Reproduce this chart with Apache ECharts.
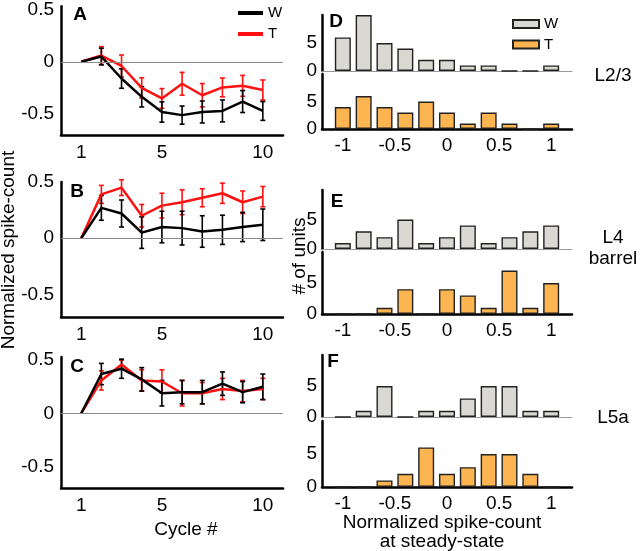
<!DOCTYPE html>
<html><head><meta charset="utf-8">
<script src="https://cdn.jsdelivr.net/npm/echarts@6/dist/echarts.min.js"></script>
<style>html,body{margin:0;padding:0;background:#fff}#c{width:640px;height:551px}</style>
</head><body><div id="c"></div>
<script>
// ---- data ----
const cycles = [1,2,3,4,5,6,7,8,9,10];
const A_W = [0, 0.05, -0.16, -0.335, -0.48, -0.51, -0.48, -0.47, -0.38, -0.47];
const A_W_err = [0, 0.08, 0.093, 0.097, 0.097, 0.087, 0.105, 0.105, 0.105, 0.09];
const A_T = [0, 0.06, -0.04, -0.25, -0.35, -0.21, -0.32, -0.245, -0.23, -0.27];
const A_T_err = [0, 0.085, 0.105, 0.097, 0.094, 0.109, 0.112, 0.09, 0.1, 0.096];
const B_W = [0, 0.27, 0.22, 0.05, 0.1, 0.09, 0.06, 0.075, 0.1, 0.12];
const B_W_err = [0, 0.11, 0.12, 0.14, 0.14, 0.15, 0.14, 0.13, 0.13, 0.14];
const B_T = [0, 0.39, 0.45, 0.2, 0.29, 0.32, 0.36, 0.4, 0.32, 0.37];
const B_T_err = [0, 0.08, 0.07, 0.1, 0.11, 0.11, 0.08, 0.09, 0.1, 0.09];
const C_W = [0, 0.37, 0.42, 0.32, 0.19, 0.2, 0.2, 0.28, 0.2, 0.25];
const C_W_err = [0, 0.1, 0.09, 0.11, 0.12, 0.11, 0.11, 0.11, 0.1, 0.12];
const C_T = [0, 0.31, 0.46, 0.31, 0.3, 0.19, 0.19, 0.23, 0.21, 0.23];
const C_T_err = [0, 0.09, 0.04, 0.1, 0.11, 0.12, 0.1, 0.1, 0.1, 0.1];

const bins = [-1, -0.8, -0.6, -0.4, -0.2, 0, 0.2, 0.4, 0.6, 0.8, 1];
const D_W = [6, 10, 5, 4, 2, 2, 1, 1, 0, 0, 1];
const D_T = [4, 6, 4, 3, 5, 3, 1, 3, 1, 0, 1];
const E_W = [1, 3, 2, 5, 1, 2, 4, 1, 2, 3, 4];
const E_T = [0, 0, 1, 4, 0, 4, 3, 1, 7, 1, 5];
const F_W = [0, 1, 5, 0, 1, 1, 3, 5, 5, 1, 1];
const F_T = [0, 0, 1, 2, 6, 2, 3, 5, 5, 2, 0];

const xTicksLeft = [1, 5, 10];
const panelLetters = ['A','B','C','D','E','F'];
const layerLabels = ['L2/3', 'L4\nbarrel', 'L5a'];

// ---- chart ----
const FONT = "'Liberation Sans', Arial, sans-serif";
const FS = 19;
const RED = '#ff1010', BLACK = '#000';
const GRAY = '#d9d8d2', ORANGE = '#fcb550';

const leftGrids = [
  {top: 5, height: 130, max: 0.53},
  {top: 182, height: 135, max: 0.5},
  {top: 357, height: 131, max: 0.53}
];
const rightGrids = [
  {top: 15, height: 56}, {top: 74, height: 55},
  {top: 190, height: 59}, {top: 252, height: 62},
  {top: 355, height: 62}, {top: 421, height: 66}
];

const grid = [], xAxis = [], yAxis = [], series = [];
const halfFmt = v => (Math.abs(v*2 - Math.round(v*2)) < 1e-6) ? String(Math.round(v*2)/2) : '';

leftGrids.forEach((g, i) => {
  grid.push({left: 61, width: 222, top: g.top, height: g.height});
  xAxis.push({type: 'value', gridIndex: i, min: 0, max: 11, interval: 1,
    axisLine: {show: true, onZero: false, lineStyle: {color: BLACK, width: 2.5}}, axisTick: {show: false},
    splitLine: {show: false},
    axisLabel: {margin: 8, color: '#000', fontSize: FS, fontFamily: FONT,
      formatter: v => xTicksLeft.includes(v) ? String(v) : ''}});
  yAxis.push({type: 'value', gridIndex: i, min: -0.7, max: g.max, interval: 0.1,
    axisLine: {show: true, onZero: false, lineStyle: {color: BLACK, width: 2.5}}, axisTick: {show: false},
    splitLine: {show: false},
    axisLabel: {margin: 7, color: '#000', fontSize: FS, fontFamily: FONT, formatter: halfFmt}});
});
rightGrids.forEach((g, j) => {
  const i = j + 3;
  const isW = j % 2 === 0;
  grid.push({left: 322, width: 250, top: g.top, height: g.height});
  xAxis.push({type: 'value', gridIndex: i, min: -1.2, max: 1.2, interval: 0.1,
    axisLine: {show: true, onZero: false, lineStyle: isW ? {color: '#999', width: 1} : {color: BLACK, width: 2.5}},
    axisTick: {show: false}, splitLine: {show: false},
    axisLabel: isW ? {show: false} : {margin: 7, color: '#000', fontSize: FS, fontFamily: FONT, formatter: halfFmt}});
  yAxis.push({type: 'value', gridIndex: i, min: 0, max: 10, interval: 5,
    axisLine: {show: true, onZero: false, lineStyle: {color: BLACK, width: 2.5}}, axisTick: {show: false},
    splitLine: {show: false},
    axisLabel: {margin: 5, color: '#000', fontSize: FS, fontFamily: FONT, formatter: v => v === 10 ? '' : String(v)}});
});

function errSeries(name, idx, mean, err, color) {
  const data = cycles.map((c, k) => [c, mean[k], err[k]]).filter(d => d[2] > 0);
  return {
    type: 'custom', name: name, xAxisIndex: idx, yAxisIndex: idx, silent: true, z: 3,
    data: data,
    renderItem: (params, api) => {
      const x = api.value(0), m = api.value(1), e = api.value(2);
      const t = api.coord([x, m + e]), b = api.coord([x, m - e]);
      const cw = 2.5;
      const st = {stroke: color, lineWidth: 1.6};
      return {type: 'group', children: [
        {type: 'line', shape: {x1: t[0], y1: t[1], x2: b[0], y2: b[1]}, style: st},
        {type: 'line', shape: {x1: t[0]-cw, y1: t[1], x2: t[0]+cw, y2: t[1]}, style: st},
        {type: 'line', shape: {x1: b[0]-cw, y1: b[1], x2: b[0]+cw, y2: b[1]}, style: st}
      ]};
    }
  };
}
function lineSeries(name, idx, vals, color, withZero) {
  const s = {type: 'line', name: name, xAxisIndex: idx, yAxisIndex: idx, symbol: 'none', z: 4,
    data: cycles.map((c, k) => [c, vals[k]]),
    lineStyle: {color: color, width: 2.5}, itemStyle: {color: color}};
  if (withZero) s.markLine = {silent: true, symbol: 'none', label: {show: false},
    lineStyle: {color: '#8a8a8a', width: 1, type: 'solid'}, data: [{yAxis: 0}]};
  return s;
}
const leftData = [[A_W, A_W_err, A_T, A_T_err], [B_W, B_W_err, B_T, B_T_err], [C_W, C_W_err, C_T, C_T_err]];
leftData.forEach((d, i) => {
  series.push(lineSeries('T', i, d[2], RED, true));
  series.push(errSeries('T', i, d[2], d[3], RED));
  series.push(lineSeries('W', i, d[0], BLACK, false));
  series.push(errSeries('W', i, d[0], d[1], BLACK));
});
const histData = [D_W, D_T, E_W, E_T, F_W, F_T];
histData.forEach((h, j) => {
  const isW = j % 2 === 0;
  series.push({type: 'bar', name: isW ? 'Wh' : 'Th', xAxisIndex: j + 3, yAxisIndex: j + 3,
    barWidth: 16, data: bins.map((b, k) => [b, h[k]]),
    itemStyle: {color: isW ? GRAY : ORANGE, borderColor: '#222', borderWidth: 1.4}});
});

const textStyle = (extra) => Object.assign({fill: '#000', fontFamily: FONT}, extra);
const graphic = [
  {type: 'text', x: 9, y: 250, rotation: Math.PI/2, style: textStyle({text: 'Normalized spike-count', fontSize: FS, align: 'center', verticalAlign: 'middle'})},
  {type: 'text', x: 186, y: 530, style: textStyle({text: 'Cycle #', fontSize: FS, align: 'center', verticalAlign: 'middle'})},
  {type: 'text', x: 442, y: 523, style: textStyle({text: 'Normalized spike-count', fontSize: FS, align: 'center', verticalAlign: 'middle'})},
  {type: 'text', x: 442, y: 542, style: textStyle({text: 'at steady-state', fontSize: FS, align: 'center', verticalAlign: 'middle'})},
  {type: 'text', x: 300, y: 256, rotation: Math.PI/2, style: textStyle({text: '# of units', fontSize: FS, align: 'center', verticalAlign: 'middle'})}
];
const letterPos = [[80,15],[77,192],[77,367],[336,22],[337,202],[333,362]];
panelLetters.forEach((L, k) => graphic.push({type: 'text', x: letterPos[k][0], y: letterPos[k][1],
  style: textStyle({text: L, fontSize: 19, fontWeight: 'bold', align: 'center', verticalAlign: 'middle'})}));
const layerPos = [[613, 76], [613, 248], [613, 418]];
layerLabels.forEach((L, k) => graphic.push({type: 'text', x: layerPos[k][0], y: layerPos[k][1],
  style: textStyle({text: L, fontSize: 19, lineHeight: 21, align: 'center', verticalAlign: 'middle'})}));

const option = {
  animation: false,
  backgroundColor: '#fff',
  textStyle: {fontFamily: FONT},
  legend: [
    {data: ['W', 'T'], left: 233, top: 0, orient: 'vertical', icon: 'rect', itemWidth: 25, itemHeight: 4,
      itemGap: 5, selectedMode: false, textStyle: {fontSize: 15, lineHeight: 16, color: '#000', fontFamily: FONT}},
    {data: ['Wh', 'Th'], left: 507, top: 11, orient: 'vertical', icon: 'rect', itemWidth: 26, itemHeight: 8,
      itemGap: 4.5, selectedMode: false, formatter: n => n[0],
      textStyle: {fontSize: 15, lineHeight: 16, color: '#000', fontFamily: FONT}}
  ],
  grid, xAxis, yAxis, series, graphic
};
const chart = echarts.init(document.getElementById('c'), null, {renderer: 'canvas'});
chart.setOption(option);
</script>
</body></html>
